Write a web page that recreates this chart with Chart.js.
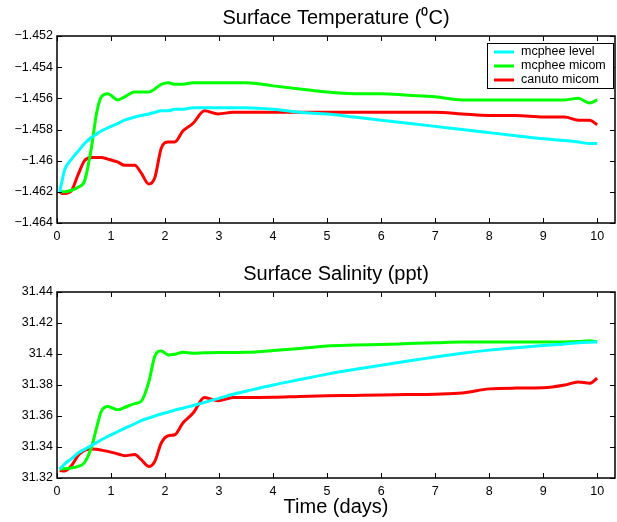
<!DOCTYPE html>
<html>
<head>
<meta charset="utf-8">
<script src="https://cdn.jsdelivr.net/npm/chart.js@4.4.0/dist/chart.umd.min.js"></script>
<style>
  html, body { margin: 0; padding: 0; background: #fff; }
  #wrap { position: relative; width: 617px; height: 522px; }
  .box { position: absolute; left: 0; width: 617px; }
  #topBox { top: 0; height: 250px; }
  #botBox { top: 250px; height: 272px; }
</style>
</head>
<body>
<div id="wrap">
  <div class="box" id="topBox"><canvas id="tempChart"></canvas></div>
  <div class="box" id="botBox"><canvas id="salChart"></canvas></div>
</div>
<script>
// ---- data ----
const days = [0.05, 0.1, 0.14, 0.27, 0.39, 0.51, 0.64, 0.73, 0.82, 0.94, 1.13, 1.25, 1.44, 1.56, 1.70, 1.81, 1.93,
  2.06, 2.18, 2.33, 2.52, 2.73, 2.98, 3.26, 3.5, 4.0, 4.5, 5.0, 5.5, 6.0, 6.5, 7.0, 7.5, 8.0, 8.5, 9.0, 9.4, 9.65, 9.86, 10.0];

const seriesNames = ['mcphee level', 'mcphee micom', 'canuto micom'];
const seriesColors = ['#00ffff', '#00ff00', '#ff0000'];

// surface temperature (deg C)
const tempLevel = [-1.4620, -1.4612, -1.4606, -1.4599, -1.4594, -1.4589, -1.4585, -1.4583, -1.4581, -1.4579, -1.4576, -1.4574,
  -1.4572, -1.4571, -1.4570, -1.4569, -1.4568, -1.4568, -1.4567, -1.4567, -1.4566, -1.4566, -1.4566, -1.4566, -1.4566,
  -1.4567, -1.4569, -1.4570, -1.4572, -1.4574, -1.4576, -1.4578, -1.4580, -1.4582, -1.4584, -1.4586, -1.4587, -1.4588,
  -1.4589, -1.4589];
const tempMicom = [-1.4620, -1.4620, -1.4620, -1.4619, -1.4617, -1.4613, -1.4591, -1.4570, -1.4559, -1.4557, -1.4561, -1.4559,
  -1.4556, -1.4556, -1.4556, -1.4554, -1.4551, -1.4550, -1.4551, -1.4551, -1.4550, -1.4550, -1.4550, -1.4550, -1.4550,
  -1.4552, -1.4554, -1.4556, -1.4557, -1.4557, -1.4558, -1.4559, -1.4561, -1.4561, -1.4561, -1.4561, -1.4561, -1.4560,
  -1.4563, -1.4561];
const tempCanuto = [-1.4620, -1.4621, -1.4621, -1.4619, -1.4609, -1.4600, -1.4598, -1.4598, -1.4598, -1.4599, -1.4601, -1.4603,
  -1.4603, -1.4608, -1.4615, -1.4611, -1.4592, -1.4588, -1.4588, -1.4581, -1.4576, -1.4568, -1.4570, -1.4569, -1.4569,
  -1.4569, -1.4569, -1.4569, -1.4569, -1.4569, -1.4569, -1.4569, -1.4570, -1.4571, -1.4571, -1.4572, -1.4572, -1.4574,
  -1.4574, -1.4577];

// surface salinity (ppt)
const salLevel = [31.3258, 31.3275, 31.3290, 31.3325, 31.3361, 31.3385, 31.3410, 31.3428, 31.3447, 31.3468, 31.3500, 31.3520,
  31.3550, 31.3570, 31.3587, 31.3600, 31.3613, 31.3625, 31.3638, 31.3650, 31.3668, 31.3688, 31.3712, 31.3740, 31.3760,
  31.3800, 31.3835, 31.3870, 31.3900, 31.3928, 31.3955, 31.3980, 31.4005, 31.4025, 31.4040, 31.4055, 31.4065, 31.4072,
  31.4076, 31.4078];
const salMicom = [31.3258, 31.3259, 31.3260, 31.3265, 31.3275, 31.3300, 31.3400, 31.3520, 31.3630, 31.3662, 31.3640, 31.3655,
  31.3680, 31.3695, 31.3820, 31.3985, 31.4020, 31.3993, 31.3998, 31.4011, 31.4005, 31.4008, 31.4010, 31.4010, 31.4011,
  31.4022, 31.4036, 31.4052, 31.4058, 31.4062, 31.4067, 31.4072, 31.4077, 31.4077, 31.4077, 31.4077, 31.4077, 31.4080,
  31.4086, 31.4078];
const salCanuto = [31.3248, 31.3246, 31.3245, 31.3280, 31.3345, 31.3378, 31.3387, 31.3385, 31.3380, 31.3372, 31.3355, 31.3344,
  31.3351, 31.3318, 31.3275, 31.3307, 31.3426, 31.3473, 31.3479, 31.3555, 31.3619, 31.3719, 31.3698, 31.3719, 31.3720,
  31.3721, 31.3726, 31.3730, 31.3733, 31.3736, 31.3738, 31.3741, 31.3748, 31.3775, 31.3780, 31.3782, 31.3800, 31.3820,
  31.3811, 31.3844];

// tick values
const dayTicks = [0, 1, 2, 3, 4, 5, 6, 7, 8, 9, 10];
const tempTicks = [-1.464, -1.462, -1.46, -1.458, -1.456, -1.454, -1.452];
const salTicks = [31.32, 31.34, 31.36, 31.38, 31.4, 31.42, 31.44];

const FONT = '"Liberation Sans", Arial, Helvetica, sans-serif';

function fmtTick(v) {
  return String(+v.toFixed(4)).replace('-', '\u2212');
}

// frame + inward tick marks on all four sides, optional legend box
const framePlugin = {
  id: 'frame',
  afterDraw(chart, args, opts) {
    const { ctx, chartArea: a, scales } = chart;
    const L = 5;
    ctx.save();
    ctx.strokeStyle = '#000';
    ctx.lineWidth = 1;
    ctx.beginPath();
    scales.x.ticks.forEach(t => {
      const px = Math.round(scales.x.getPixelForValue(t.value)) + 0.5;
      ctx.moveTo(px, a.bottom); ctx.lineTo(px, a.bottom - L);
      ctx.moveTo(px, a.top); ctx.lineTo(px, a.top + L);
    });
    scales.y.ticks.forEach(t => {
      const py = Math.round(scales.y.getPixelForValue(t.value)) + 0.5;
      ctx.moveTo(a.left, py); ctx.lineTo(a.left + L, py);
      ctx.moveTo(a.right, py); ctx.lineTo(a.right - L, py);
    });
    ctx.stroke();
    ctx.lineWidth = 1.5;
    ctx.strokeRect(a.left, a.top, a.right - a.left, a.bottom - a.top);

    if (opts && opts.legend) {
      const w = 126, h = 45;
      const x0 = a.right - w - 2, y0 = a.top + 7;
      ctx.fillStyle = '#fff';
      ctx.fillRect(x0, y0, w, h);
      ctx.lineWidth = 1;
      ctx.strokeRect(x0 + 0.5, y0 + 0.5, w, h);
      ctx.font = '12.5px ' + FONT;
      ctx.textBaseline = 'middle';
      chart.data.datasets.forEach((ds, i) => {
        const yy = y0 + 9 + i * 14;
        ctx.strokeStyle = ds.borderColor;
        ctx.lineWidth = 3;
        ctx.beginPath();
        ctx.moveTo(x0 + 7, yy); ctx.lineTo(x0 + 27, yy);
        ctx.stroke();
        ctx.fillStyle = '#000';
        ctx.fillText(ds.label, x0 + 34, yy);
      });
    }
    ctx.restore();
  }
};

function makeDatasets(seriesList) {
  return seriesList.map((vals, i) => ({
    label: seriesNames[i],
    data: days.map((d, k) => ({ x: d, y: vals[k] })),
    borderColor: seriesColors[i],
    backgroundColor: seriesColors[i],
    borderWidth: 3,
    pointRadius: 0,
    cubicInterpolationMode: 'monotone',
    fill: false
  }));
}

function makeChart(id, seriesList, yTicks, yMin, yMax, title, dims, withLegend, xTitle) {
  const ctx = document.getElementById(id).getContext('2d');
  return new Chart(ctx, {
    type: 'line',
    data: { datasets: makeDatasets(seriesList) },
    options: {
      responsive: true,
      maintainAspectRatio: false,
      animation: false,
      layout: { padding: { left: 0, right: 2, top: 0, bottom: 0 } },
      plugins: {
        legend: { display: false },
        tooltip: { enabled: false },
        frame: { legend: withLegend }
      },
      scales: {
        x: {
          type: 'linear', position: 'bottom', min: 0, max: 10.33,
          grid: { display: false, drawTicks: false }, border: { display: false },
          afterBuildTicks: s => { s.ticks = dayTicks.map(v => ({ value: v })); },
          ticks: { color: '#000', font: { family: FONT, size: 12.5 }, padding: 6, maxRotation: 0 },
          title: xTitle ? { display: true, text: xTitle, color: '#000', font: { family: FONT, size: 20 }, padding: { top: 0, bottom: dims.xTitlePad } } : { display: false },
          afterFit: s => { s.height = dims.bottom; }
        },
        xTop: {
          type: 'linear', position: 'top', min: 0, max: 10.33,
          grid: { display: false, drawTicks: false }, border: { display: false },
          ticks: { display: false },
          title: { display: true, text: title, color: '#000', font: { family: FONT, size: 20 }, padding: { top: dims.titlePad, bottom: 0 } },
          afterFit: s => { s.height = dims.top; }
        },
        y: {
          type: 'linear', position: 'left', min: yMin, max: yMax,
          grid: { display: false, drawTicks: false }, border: { display: false },
          afterBuildTicks: s => { s.ticks = yTicks.map(v => ({ value: v })); },
          ticks: { color: '#000', font: { family: FONT, size: 12.5 }, padding: 4, callback: v => fmtTick(v) },
          afterFit: s => { s.width = 57; }
        }
      }
    },
    plugins: [framePlugin]
  });
}

makeChart('tempChart', [tempLevel, tempMicom, tempCanuto], tempTicks, -1.464, -1.452,
  'Surface Temperature (\u2070C)', { top: 36, bottom: 27, titlePad: 6 }, true, null);
makeChart('salChart', [salLevel, salMicom, salCanuto], salTicks, 31.32, 31.44,
  'Surface Salinity (ppt)', { top: 42, bottom: 44, titlePad: 12, xTitlePad: 3 }, false, 'Time (days)');
</script>
</body>
</html>
